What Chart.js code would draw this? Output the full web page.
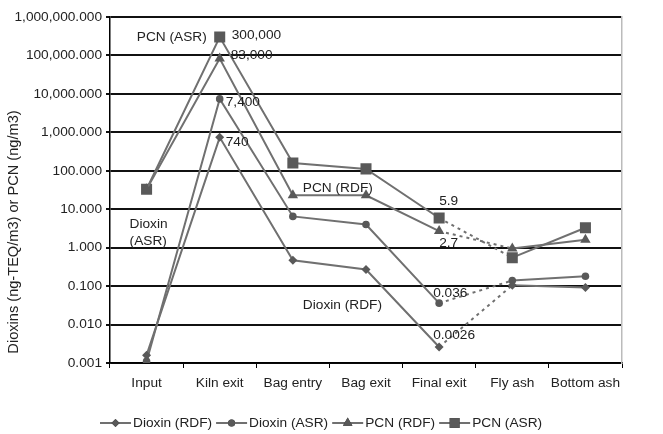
<!DOCTYPE html>
<html><head><meta charset="utf-8">
<script src="https://cdn.jsdelivr.net/npm/chart.js@4/dist/chart.umd.min.js"></script>
<style>html,body{margin:0;padding:0;background:#fff}#wrap{width:663px;height:434px}</style>
</head><body><div id="wrap"><canvas id="c" width="663" height="434"></canvas></div>
<script>
const categories = ['Input','Kiln exit','Bag entry','Bag exit','Final exit','Fly ash','Bottom ash'];
const dioxinRDF = [0.0016, 740, 0.47, 0.27, 0.0026, 0.105, 0.092];
const dioxinASR = [0.0011, 7400, 6.5, 4.0, 0.036, 0.14, 0.18];
const pcnRDF = [33, 83000, 23, 23, 2.7, 0.95, 1.6];
const pcnASR = [33, 300000, 160, 112, 5.9, 0.55, 3.3];
const seriesNames = ['Dioxin (RDF)','Dioxin (ASR)','PCN (RDF)','PCN (ASR)'];
const yTickExponents = [-3,-2,-1,0,1,2,3,4,5,6];
const yTitle = 'Dioxins (ng-TEQ/m3) or PCN (ng/m3)';
// value labels anchored to a data point (series index, category index)
const pointLabels = [
  {text:'PCN (ASR)', ds:3, cat:1, dx:-13, dy:0, align:'right'},
  {text:'300,000', ds:3, cat:1, dx:12, dy:-2, align:'left'},
  {text:'83,000', ds:2, cat:1, dx:11, dy:-3, align:'left'},
  {text:'7,400', ds:1, cat:1, dx:6, dy:3, align:'left'},
  {text:'740', ds:0, cat:1, dx:6, dy:5, align:'left'},
  {text:'PCN (RDF)', ds:2, cat:2, dx:10, dy:-7, align:'left'},
  {text:'5.9', ds:3, cat:4, dx:0, dy:-17, align:'left'},
  {text:'2.7', ds:2, cat:4, dx:0, dy:12, align:'left'},
  {text:'0.036', ds:1, cat:4, dx:-6, dy:-10, align:'left'},
  {text:'0.0026', ds:0, cat:4, dx:-6, dy:-12, align:'left'}
];
// free labels anchored to (category, value)
const freeLabels = [
  {lines:['Dioxin','(ASR)'], cat:0, value:2.4, dx:-17, align:'left'},
  {lines:['Dioxin (RDF)'], cat:2, value:0.032, dx:10, align:'left'}
];

const FONT = '"Liberation Sans", Arial, sans-serif';
const FS = 13.7;
const lineColor = '#707070';
const markColor = '#595959';
const styles = [
  {pointStyle:'rectRot', radius:4.5},
  {pointStyle:'circle', radius:3.8},
  {pointStyle:'triangle', radius:6},
  {pointStyle:'rect', radius:7.8}
];
const seriesData = [dioxinRDF, dioxinASR, pcnRDF, pcnASR];

const datasets = seriesData.map((d,i)=>({
  label: seriesNames[i],
  data: d,
  borderColor: lineColor,
  borderWidth: 2,
  backgroundColor: markColor,
  pointBackgroundColor: markColor,
  pointBorderColor: markColor,
  pointBorderWidth: 0,
  pointStyle: styles[i].pointStyle,
  pointRadius: styles[i].radius,
  pointHoverRadius: styles[i].radius,
  tension: 0,
  segment: {
    borderDash: ctx => ctx.p0DataIndex === 4 ? [3,4] : undefined
  }
}));

const labelPlugin = {
  id:'labels',
  afterDatasetsDraw(chart){
    const ctx = chart.ctx;
    const xs = chart.scales.x, ys = chart.scales.y;
    ctx.save();
    ctx.font = FS + 'px ' + FONT;
    ctx.fillStyle = '#222';
    ctx.textBaseline = 'middle';
    pointLabels.forEach(l=>{
      const el = chart.getDatasetMeta(l.ds).data[l.cat];
      ctx.textAlign = l.align;
      ctx.fillText(l.text, el.x + l.dx, el.y + l.dy);
    });
    freeLabels.forEach(l=>{
      const x = xs.getPixelForValue(l.cat) + l.dx;
      const yc = ys.getPixelForValue(l.value);
      ctx.textAlign = l.align;
      const lh = 17;
      const y0 = yc - (l.lines.length-1)*lh/2;
      l.lines.forEach((t,k)=>ctx.fillText(t, x, y0 + k*lh));
    });
    // y title
    ctx.save();
    ctx.font = '14.6px ' + FONT;
    ctx.translate(14, (ys.top + ys.bottom)/2 + 42);
    ctx.rotate(-Math.PI/2);
    ctx.textAlign = 'center';
    ctx.fillText(yTitle, 0, 0);
    ctx.restore();
    // legend
    let x = chart.chartArea.left - 10;
    const y = 423;
    chart.data.datasets.forEach((ds,i)=>{
      ctx.strokeStyle = lineColor; ctx.lineWidth = 2;
      ctx.beginPath(); ctx.moveTo(x, y); ctx.lineTo(x+31, y); ctx.stroke();
      const r = i===3 ? 7 : (i===2 ? 5.5 : (i===1?3.5:4));
      Chart.helpers.drawPoint(ctx, {pointStyle: ds.pointStyle, radius: r, borderWidth: 0}, x+15.5, y);
      ctx.fillStyle = markColor; ctx.fill();
      ctx.fillStyle = '#222';
      ctx.textAlign = 'left';
      ctx.fillText(ds.label, x+33, y);
      x += 33 + ctx.measureText(ds.label).width + 4;
    });
    ctx.restore();
  }
};

new Chart(document.getElementById('c'), {
  type:'line',
  data:{labels:categories, datasets},
  plugins:[labelPlugin],
  options:{
    responsive:false,
    animation:false,
    layout:{padding:{top:17, right:0, bottom:40, left:0}},
    plugins:{legend:{display:false}, tooltip:{enabled:false}},
    scales:{
      x:{
        type:'category',
        offset:true,
        grid:{display:true, drawOnChartArea:false, drawTicks:true, tickLength:5, color:'#000', offset:true, lineWidth:1},
        border:{color:'#000', width:1.5},
        ticks:{color:'#222', font:{family:FONT, size:FS}, padding:7, maxRotation:0, autoSkip:false},
        afterFit(s){ s.height = 31; }
      },
      y:{
        type:'logarithmic',
        min:0.001, max:1000000,
        afterBuildTicks(s){ s.ticks = yTickExponents.map(e=>({value: Math.pow(10,e)})); },
        grid:{color:'#111', lineWidth:2, tickLength:4, drawTicks:true},
        border:{color:'#000', width:1.5},
        ticks:{color:'#222', font:{family:FONT, size:FS}, padding:4,
          callback:(v)=>Number(v).toLocaleString('en-US',{minimumFractionDigits:3, maximumFractionDigits:3})},
        afterFit(s){ s.width = 110; }
      },
      yR:{
        type:'linear', position:'right', display:true,
        grid:{drawOnChartArea:false, drawTicks:false},
        border:{color:'#bbb', width:1.5},
        ticks:{display:false},
        afterFit(s){ s.width = 41; }
      }
    }
  }
});
</script></body></html>
